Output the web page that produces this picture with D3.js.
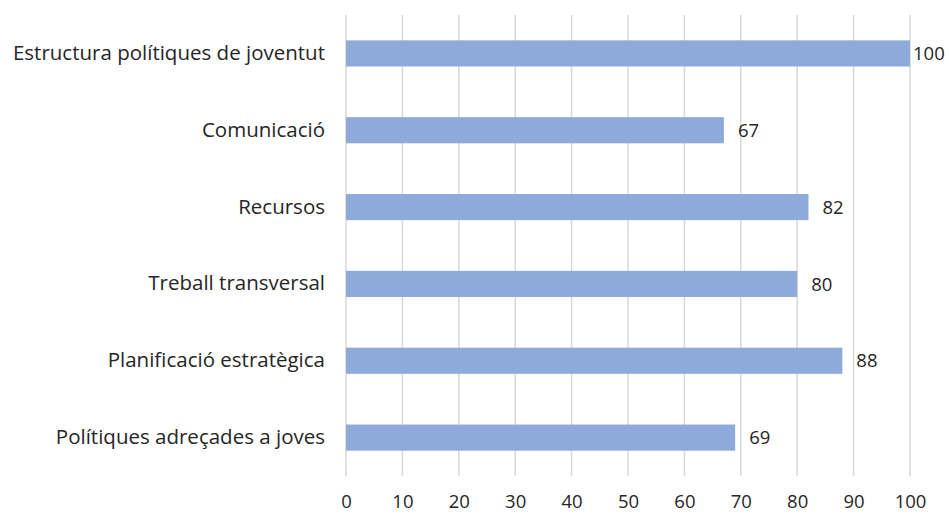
<!DOCTYPE html>
<html>
<head>
<meta charset="utf-8">
<script src="https://cdn.jsdelivr.net/npm/d3@7"></script>
<style>
  html, body { margin: 0; padding: 0; background: #fff; }
  svg text { font-family: "Open Sans", "Noto Sans", sans-serif; fill: #262626; }
</style>
</head>
<body>
<script>
// Àmbits avaluats i puntuació de cada un
const categories = [
  "Estructura polítiques de joventut",
  "Comunicació",
  "Recursos",
  "Treball transversal",
  "Planificació estratègica",
  "Polítiques adreçades a joves"
];
const values = [100, 67, 82, 80, 88, 69];
const tickValues = [0, 10, 20, 30, 40, 50, 60, 70, 80, 90, 100];

const width = 949, height = 514;
const margin = { top: 15, right: 39, bottom: 38, left: 346 };

const svg = d3.select("body").append("svg")
  .attr("width", width)
  .attr("height", height);

const x = d3.scaleLinear()
  .domain([0, 100])
  .range([margin.left, width - margin.right]);

const y = d3.scaleBand()
  .domain(categories)
  .range([margin.top, height - margin.bottom])
  .paddingInner(0.66)
  .paddingOuter(0.33);

// Línies de graella verticals
svg.append("g")
  .selectAll("line")
  .data(tickValues)
  .join("line")
  .attr("x1", d => x(d))
  .attr("x2", d => x(d))
  .attr("y1", margin.top)
  .attr("y2", height - margin.bottom)
  .attr("stroke", "#d9d9d9")
  .attr("stroke-width", 1.5);

// Eix X (només etiquetes)
const xAxis = svg.append("g")
  .attr("transform", `translate(0,${height - margin.bottom})`)
  .call(d3.axisBottom(x).tickValues(tickValues).tickSize(0).tickPadding(19));
xAxis.select(".domain").remove();
xAxis.selectAll("text")
  .style("font-size", "18.5px")
  .attr("fill", "#262626");

// Eix Y (etiquetes de categoria)
const yAxis = svg.append("g")
  .attr("transform", `translate(${margin.left},0)`)
  .call(d3.axisLeft(y).tickSize(0).tickPadding(21));
yAxis.select(".domain").remove();
yAxis.selectAll("text")
  .style("font-size", "20.5px")
  .attr("fill", "#262626");

// Barres
svg.append("g")
  .selectAll("rect")
  .data(categories)
  .join("rect")
  .attr("x", x(0))
  .attr("y", d => y(d))
  .attr("width", (d, i) => x(values[i]) - x(0))
  .attr("height", y.bandwidth())
  .attr("fill", "#8eaadb");

// Etiquetes de valor
svg.append("g")
  .selectAll("text")
  .data(categories)
  .join("text")
  .attr("x", (d, i) => x(values[i]) + (values[i] >= 100 ? 3 : 14))
  .attr("y", d => y(d) + y.bandwidth() / 2)
  .attr("dy", "0.36em")
  .style("font-size", "18.5px")
  .text((d, i) => values[i]);
</script>
</body>
</html>
